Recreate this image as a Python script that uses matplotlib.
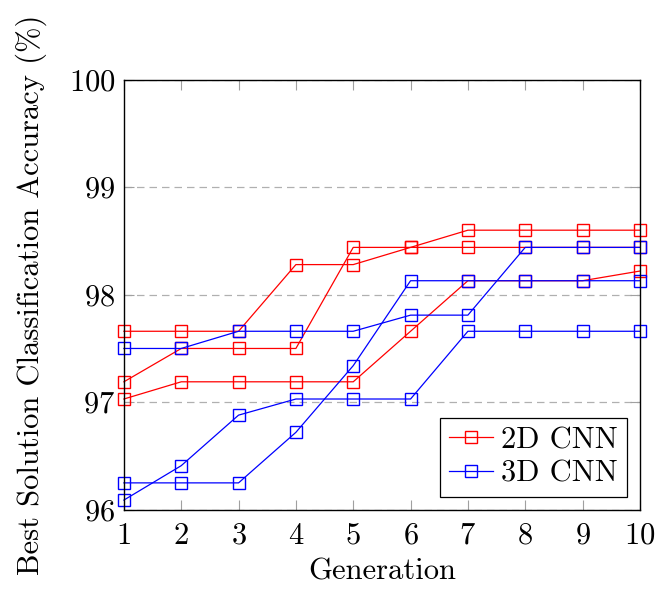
import numpy as np
import matplotlib
matplotlib.use('Agg')
import matplotlib.pyplot as plt
from matplotlib.lines import Line2D

plt.rcParams['font.family'] = ['cmr10', 'DejaVu Serif']
plt.rcParams['axes.formatter.use_mathtext'] = True
plt.rcParams['mathtext.fontset'] = 'cm'

generation = [1, 2, 3, 4, 5, 6, 7, 8, 9, 10]

# best accuracy per generation, three runs each
acc_2d_run1 = [97.66, 97.66, 97.66, 98.28, 98.28, 98.44, 98.60, 98.60, 98.60, 98.60]
acc_2d_run2 = [97.19, 97.50, 97.50, 97.50, 98.44, 98.44, 98.44, 98.44, 98.44, 98.44]
acc_2d_run3 = [97.03, 97.19, 97.19, 97.19, 97.19, 97.66, 98.13, 98.13, 98.13, 98.22]

acc_3d_run1 = [97.50, 97.50, 97.66, 97.66, 97.66, 97.81, 97.81, 98.44, 98.44, 98.44]
acc_3d_run2 = [96.09, 96.41, 96.88, 97.03, 97.03, 97.03, 97.66, 97.66, 97.66, 97.66]
acc_3d_run3 = [96.25, 96.25, 96.25, 96.72, 97.34, 98.13, 98.13, 98.13, 98.13, 98.13]

runs_2d = [acc_2d_run1, acc_2d_run2, acc_2d_run3]
runs_3d = [acc_3d_run1, acc_3d_run2, acc_3d_run3]

fig = plt.figure(figsize=(6.59, 5.90), dpi=100)
ax = fig.add_axes([0.188, 0.136, 0.783, 0.729])

style = dict(marker='s', markersize=8, markerfacecolor='none', linewidth=0.9,
             markeredgewidth=1.0)
for run in runs_2d:
    ax.plot(generation, run, color='red', clip_on=False, **style)
for run in runs_3d:
    ax.plot(generation, run, color='blue', clip_on=False, **style)

ax.set_xlim(1, 10)
ax.set_ylim(96, 100)
ax.set_xticks(generation)
ax.set_yticks([96, 97, 98, 99, 100])
ax.yaxis.grid(True, linestyle=(0, (6, 4)), color='#b0b0b0', linewidth=0.9)
ax.set_axisbelow(True)
ax.tick_params(direction='in', top=True, right=True, length=7, width=0.8,
               color='#a0a0a0', labelsize=22)
ax.tick_params(axis='x', pad=9)
ax.tick_params(axis='y', pad=6)
ax.set_xlabel('Generation', fontsize=22, labelpad=6)
ax.set_ylabel('Best Solution Classification Accuracy (%)', fontsize=22, labelpad=16)
for sp in ax.spines.values():
    sp.set_linewidth(1.0)

handles = [Line2D([], [], color='red', **style),
           Line2D([], [], color='blue', **style)]
leg = ax.legend(handles, ['2D CNN', '3D CNN'], loc='lower right', fontsize=22,
                frameon=True, fancybox=False, framealpha=1, edgecolor='black',
                borderpad=0.3, handlelength=1.45, handletextpad=0.25, labelspacing=0.2,
                borderaxespad=0, bbox_to_anchor=(0.975, 0.03))
leg.get_frame().set_linewidth(0.9)

fig.savefig('out.png', dpi=100)
